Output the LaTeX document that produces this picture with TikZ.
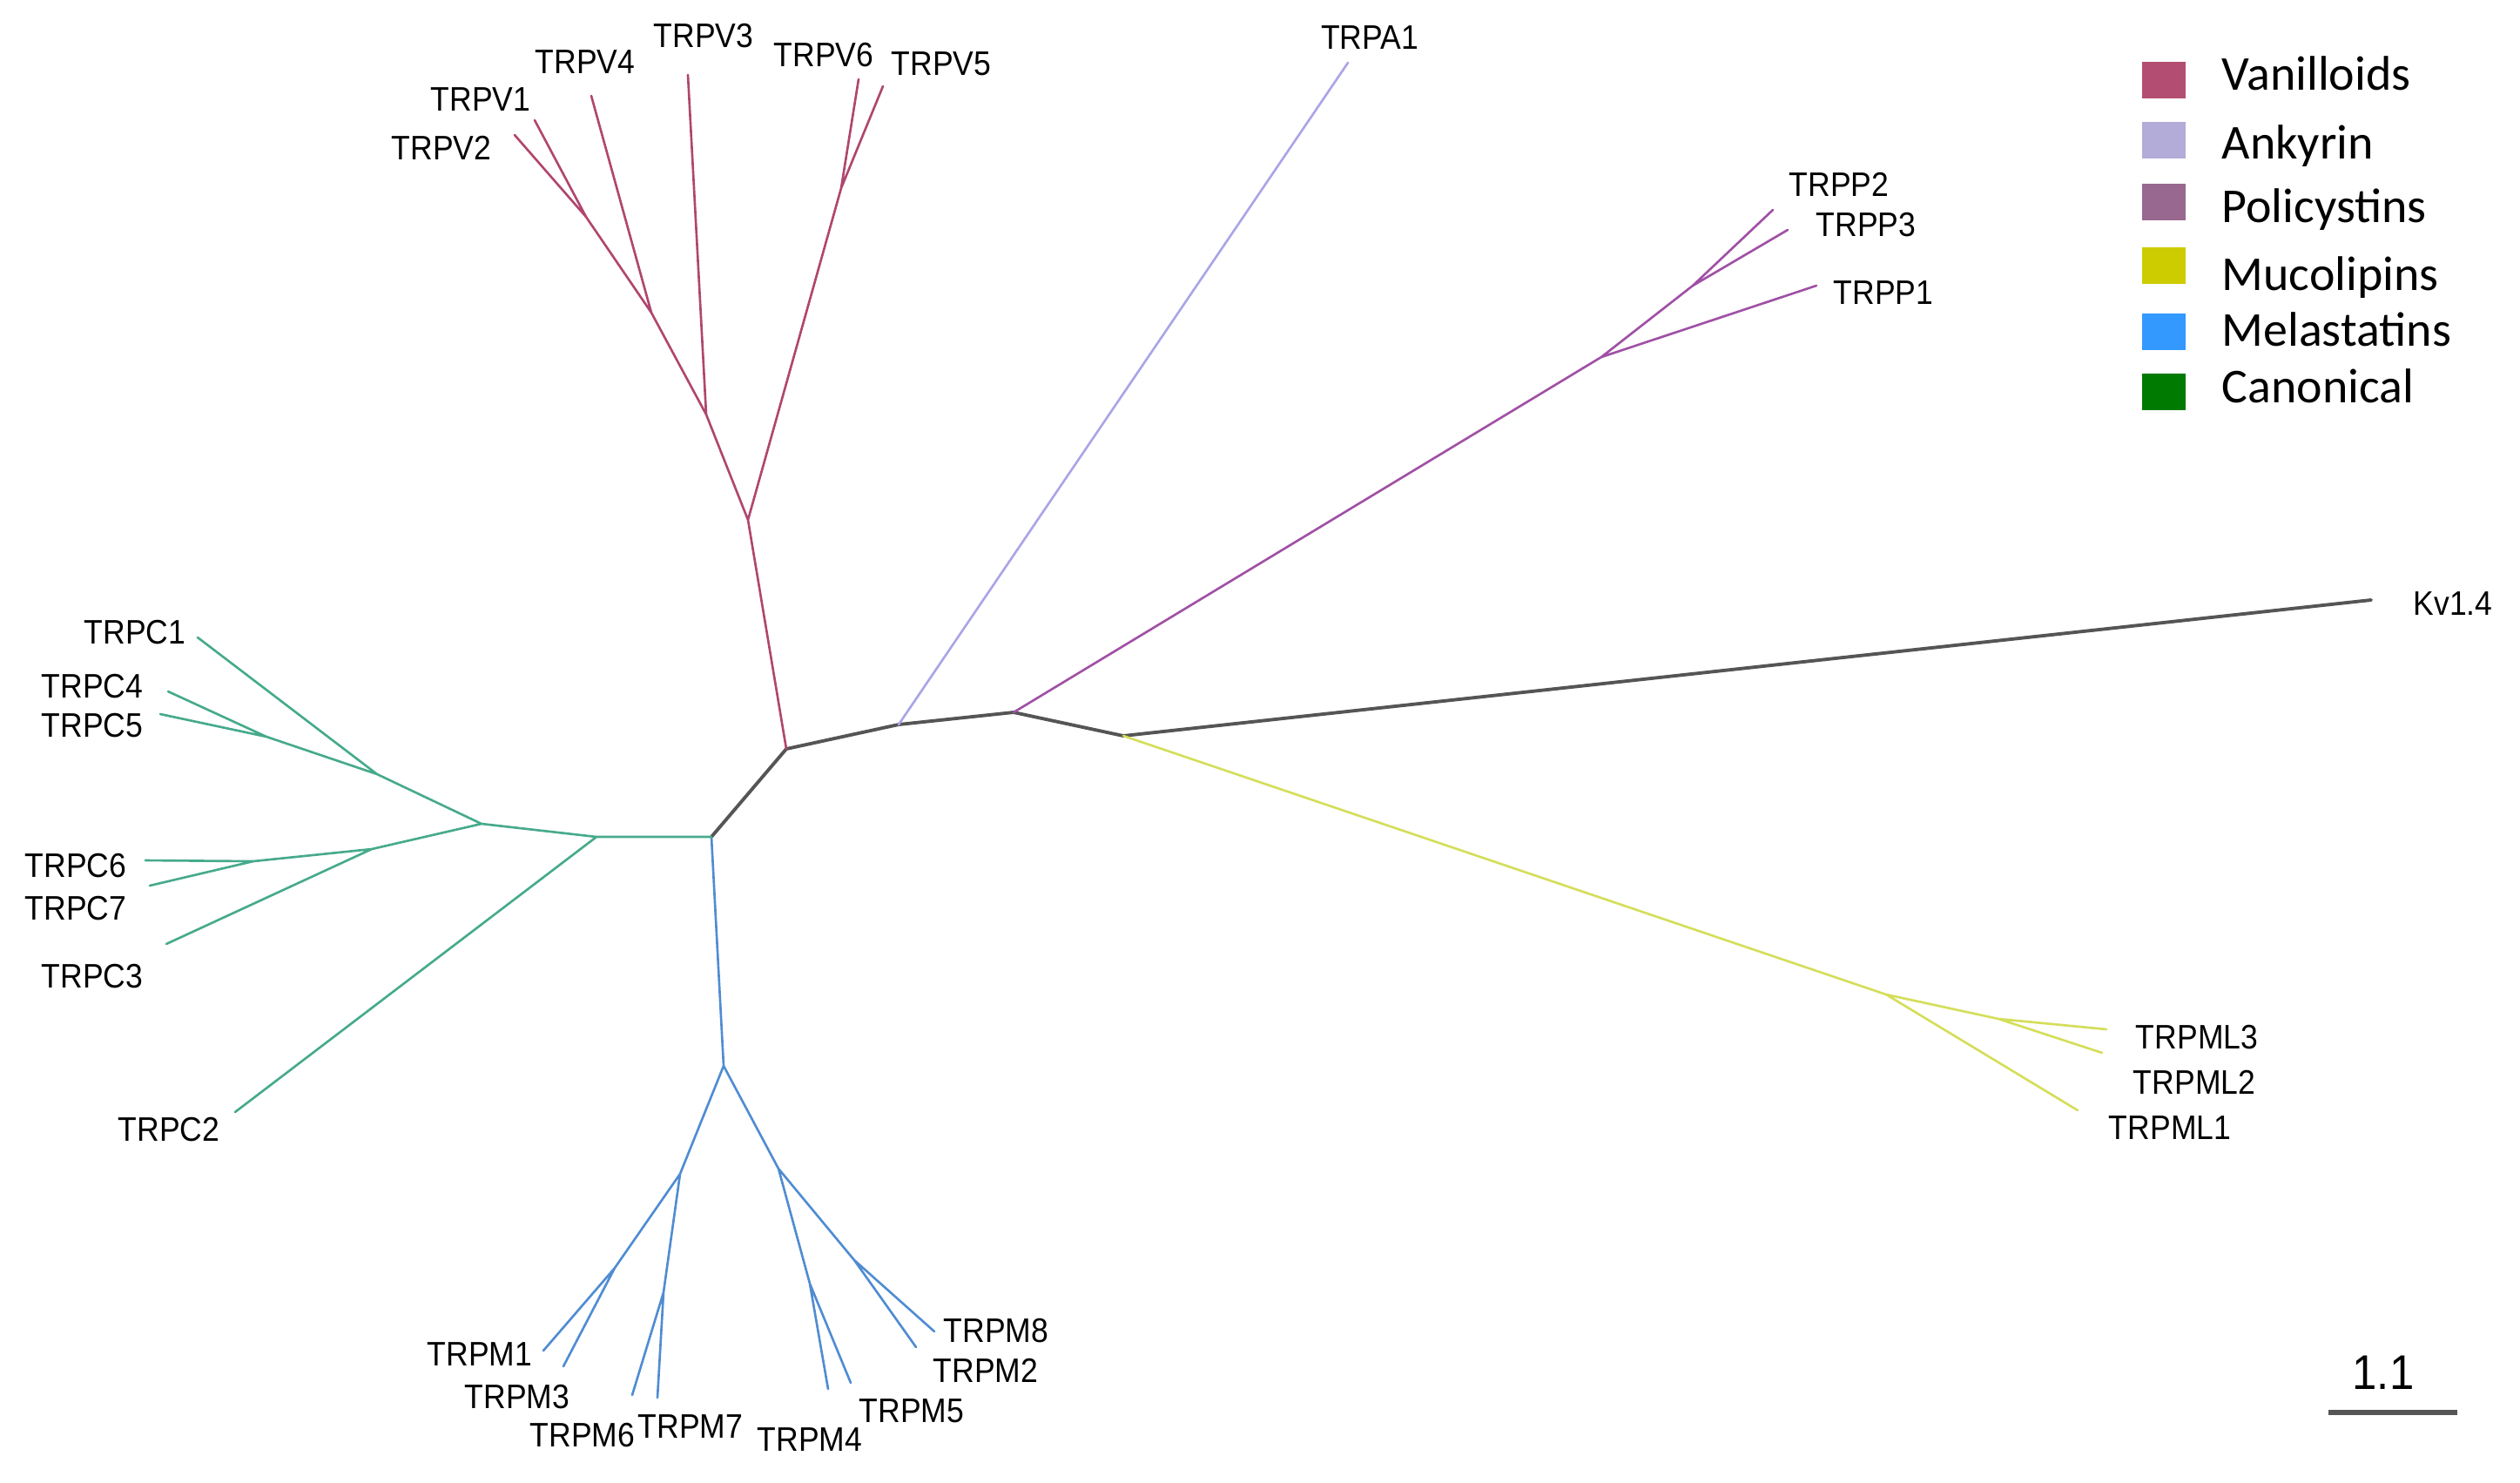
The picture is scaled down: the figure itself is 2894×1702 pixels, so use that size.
\documentclass[tikz,border=0pt]{standalone}
\usepackage{fontspec}
\setmainfont[FakeStretch=0.91]{Liberation Sans}
\newfontfamily\legendfont{Carlito}
\definecolor{bbC}{RGB}{85,85,85}
\definecolor{vanC}{RGB}{176,70,110}
\definecolor{ankC}{RGB}{170,165,230}
\definecolor{polC}{RGB}{160,80,165}
\definecolor{mucC}{RGB}{212,222,90}
\definecolor{melC}{RGB}{80,140,210}
\definecolor{canC}{RGB}{70,170,140}
\definecolor{legV}{RGB}{180,77,114}
\definecolor{legA}{RGB}{179,172,216}
\definecolor{legP}{RGB}{152,104,144}
\definecolor{legM}{RGB}{204,204,0}
\definecolor{legS}{RGB}{51,153,255}
\definecolor{legC}{RGB}{0,122,0}
\begin{document}
\begin{tikzpicture}[x=0.01cm,y=-0.01cm,line cap=round,line join=round,
    lab/.style={font=\fontsize{11.1}{13}\selectfont,inner sep=0pt},
    br/.style={line width=0.75pt},
    bb/.style={line width=1.1pt,bbC}]
    \useasboundingbox (0,0) rectangle (2894,1702);
    % backbone
    \coordinate(cm)at(817,961);\coordinate(vj)at(903,860);\coordinate(aj)at(1032,832);
    \coordinate(pj)at(1164,818);\coordinate(kj)at(1290,845);
    \draw[bb](cm)--(vj)--(aj)--(pj)--(kj);
    % vanilloids
    \coordinate(v0)at(859,597);\coordinate(v3j)at(811,476);\coordinate(v4j)at(748,359);
    \coordinate(v12)at(673,249);\coordinate(v56)at(966,216);
    \coordinate(V2e)at(591,155);\coordinate(V1e)at(614,138);\coordinate(V4e)at(679,110);
    \coordinate(V3e)at(790,86);\coordinate(V6e)at(986,91);\coordinate(V5e)at(1014,99);
    \draw[br,vanC](vj)--(v0)--(v3j)--(v4j)--(v12)--(V2e) (v12)--(V1e) (v4j)--(V4e) (v3j)--(V3e)
        (v0)--(v56)--(V6e) (v56)--(V5e);
    \node[lab](V2)at(507,170){TRPV2};\node[lab](V1)at(552,114){TRPV1};
    \node[lab](V4)at(672,71){TRPV4};\node[lab](V3)at(808,41){TRPV3};
    \node[lab](V6)at(946,63){TRPV6};\node[lab](V5)at(1081,73){TRPV5};
    % ankyrin
    \coordinate(A1e)at(1548,72);
    \draw[br,ankC](aj)--(A1e);
    \node[lab](A1)at(1573,43){TRPA1};
    % policystins
    \coordinate(p0)at(1839,410);\coordinate(p23)at(1944,328);
    \coordinate(P2e)at(2036,241);\coordinate(P3e)at(2053,264);\coordinate(P1e)at(2086,328);
    \draw[br,polC](pj)--(p0)--(p23)--(P2e) (p23)--(P3e) (p0)--(P1e);
    \node[lab](P2)at(2112,212){TRPP2};\node[lab](P3)at(2143,258){TRPP3};
    \node[lab](P1)at(2163,336){TRPP1};
    % outgroup
    \coordinate(Kve)at(2723,689);
    \draw[bb](kj)--(Kve);
    \node[lab](Kv)at(2817,693){Kv1.4};
    % mucolipins
    \coordinate(ml0)at(2166,1142);\coordinate(ml23)at(2295,1170);
    \coordinate(ML3e)at(2419,1182);\coordinate(ML2e)at(2414,1209);\coordinate(ML1e)at(2386,1275);
    \draw[br,mucC](kj)--(ml0)--(ml23)--(ML3e) (ml23)--(ML2e) (ml0)--(ML1e);
    \node[lab](ML3)at(2523,1191){TRPML3};\node[lab](ML2)at(2520,1243){TRPML2};
    \node[lab](ML1)at(2492,1295){TRPML1};
    % melastatins
    \coordinate(m0)at(831,1224);\coordinate(mL)at(781,1348);\coordinate(mR)at(894,1342);
    \coordinate(m13)at(706,1456);\coordinate(m67)at(762,1484);
    \coordinate(m45)at(930,1474);\coordinate(m28)at(981,1447);
    \coordinate(M1e)at(624,1551);\coordinate(M3e)at(647,1569);\coordinate(M6e)at(726,1602);
    \coordinate(M7e)at(755,1605);\coordinate(M4e)at(951,1595);\coordinate(M5e)at(977,1588);
    \coordinate(M2e)at(1052,1547);\coordinate(M8e)at(1073,1529);
    \draw[br,melC](cm)--(m0)--(mL)--(m13)--(M1e) (m13)--(M3e) (mL)--(m67)--(M6e) (m67)--(M7e)
        (m0)--(mR)--(m45)--(M4e) (m45)--(M5e) (mR)--(m28)--(M2e) (m28)--(M8e);
    \node[lab](M1)at(551,1555){TRPM1};\node[lab](M3)at(594,1604){TRPM3};
    \node[lab](M6)at(669,1648){TRPM6};\node[lab](M7)at(793,1638){TRPM7};
    \node[lab](M4)at(930,1653){TRPM4};\node[lab](M5)at(1047,1620){TRPM5};
    \node[lab](M2)at(1132,1574){TRPM2};\node[lab](M8)at(1144,1528){TRPM8};
    % canonical
    \coordinate(c0)at(685,961);\coordinate(c1)at(553,946);\coordinate(c145)at(433,889);
    \coordinate(c45)at(306,846);\coordinate(c367)at(427,975);\coordinate(c67)at(291,989);
    \coordinate(C1e)at(227,732);\coordinate(C4e)at(193,794);\coordinate(C5e)at(184,820);
    \coordinate(C6e)at(167,988);\coordinate(C7e)at(172,1017);\coordinate(C3e)at(191,1084);
    \coordinate(C2e)at(270,1277);
    \draw[br,canC](cm)--(c0)--(c1)--(c145)--(c45)--(C4e) (c45)--(C5e) (c145)--(C1e)
        (c1)--(c367)--(c67)--(C6e) (c67)--(C7e) (c367)--(C3e) (c0)--(C2e);
    \node[lab](C1)at(155,726){TRPC1};\node[lab](C4)at(106,788){TRPC4};
    \node[lab](C5)at(106,833){TRPC5};\node[lab](C6)at(87,994){TRPC6};
    \node[lab](C7)at(87,1043){TRPC7};\node[lab](C3)at(106,1121){TRPC3};
    \node[lab](C2)at(194,1297){TRPC2};
    % legend
    \foreach \t/\c/\y/\b in {Vanilloids/legV/71/103,Ankyrin/legA/140/182,Policystins/legP/211/255,
        Mucolipins/legM/284/333,Melastatins/legS/360/397,Canonical/legC/429/462}{
        \fill[\c](2460,\y)rectangle++(50,42);
        \node[anchor=base west,inner sep=0pt,font=\legendfont\fontsize{15.9}{18}\selectfont](leg\t)at(2551,\b){\t};}
    % scale bar
    \coordinate(sbL)at(2674,1622);\coordinate(sbR)at(2822,1622);
    \draw[line width=1.7pt,bbC,line cap=butt](sbL)--(sbR);
    \node[font=\fontsize{15.9}{18}\selectfont,inner sep=0pt](sbT)at(2737,1576){1.1};
\end{tikzpicture}
\end{document}
